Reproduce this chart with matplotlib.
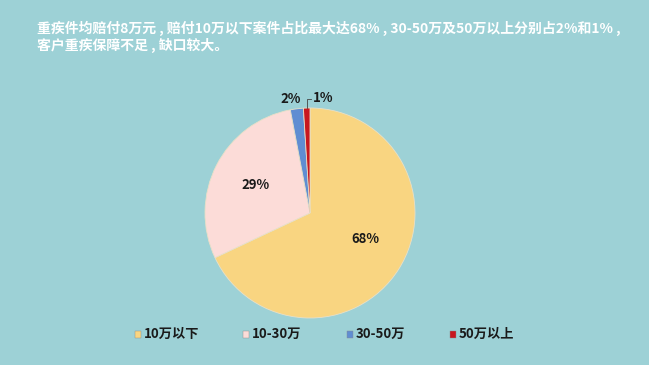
import numpy as np
import matplotlib.pyplot as plt

plt.rcParams['font.family'] = ['Noto Sans CJK SC', 'DejaVu Sans']

# Data
categories = ['10万以下', '10-30万', '30-50万', '50万以上']
shares = [68, 29, 2, 1]
colors = ['#F9D581', '#FCDCD8', '#5F8DD2', '#C8171F']
title = '重疾件均赔付8万元 , 赔付10万以下案件占比最大达68% , 30-50万及50万以上分别占2%和1% ,\n客户重疾保障不足 , 缺口较大。'

bg = '#9DD1D6'
W, H = 649, 365

fig = plt.figure(figsize=(W / 100, H / 100), dpi=100)
fig.patch.set_facecolor(bg)

fig.text(37 / W, 1 - 21 / H, title, color='white', fontsize=10, fontweight='bold',
         va='top', ha='left', linespacing=1.1)

# Pie axes: center (310, 213), radius 105 px
cx, cy, r = 310, 213, 105
ax = fig.add_axes([(cx - r) / W, 1 - (cy + r) / H, 2 * r / W, 2 * r / H])
ax.set_facecolor(bg)

wedges, _ = ax.pie(shares, colors=colors, startangle=90, counterclock=False,
                   radius=1, wedgeprops=dict(edgecolor='#E8E0C8', linewidth=0.6))
ax.set_xlim(-1, 1)
ax.set_ylim(-1, 1)
ax.set_aspect('equal')
ax.axis('off')

# Percentage labels
for w, s in zip(wedges, shares):
    ang = np.deg2rad((w.theta1 + w.theta2) / 2)
    if s >= 10:
        ang = ang + np.deg2rad(7) if s > 50 else ang
        ax.text(0.58 * np.cos(ang), 0.58 * np.sin(ang), f'{s}%', ha='center', va='center',
                fontsize=9.5, fontweight='bold', color='#1A1A1A')
# small slices outside
w2, w1 = wedges[2], wedges[3]
a2 = np.deg2rad((w2.theta1 + w2.theta2) / 2)
ax.text(1.08 * np.cos(a2) - 0.05, 1.08 * np.sin(a2) + 0.01, '2%', ha='center', va='center',
        fontsize=9.5, fontweight='bold', color='#1A1A1A', clip_on=False)
a1 = np.deg2rad((w1.theta1 + w1.theta2) / 2)
ax.plot([np.cos(a1), np.cos(a1), np.cos(a1) + 0.04],
        [np.sin(a1), 1.09, 1.09], color='#444444', lw=0.6, clip_on=False)
ax.text(np.cos(a1) + 0.06, 1.10, '1%', ha='left', va='center',
        fontsize=9.5, fontweight='bold', color='#1A1A1A', clip_on=False)

# Legend
leg_x = [135, 243, 347, 450]
for xp, c, lab in zip(leg_x, colors, categories):
    fig.patches.append(plt.Rectangle((xp / W, 1 - 338 / H), 6 / W, 7 / H,
                                     transform=fig.transFigure, facecolor=c,
                                     edgecolor='#8a8a8a', linewidth=0.3))
    fig.text((xp + 9) / W, 1 - 334 / H, lab, fontsize=9.5, fontweight='bold',
             color='#1A1A1A', va='center', ha='left')

fig.savefig('out.png', dpi=100, facecolor=bg)
